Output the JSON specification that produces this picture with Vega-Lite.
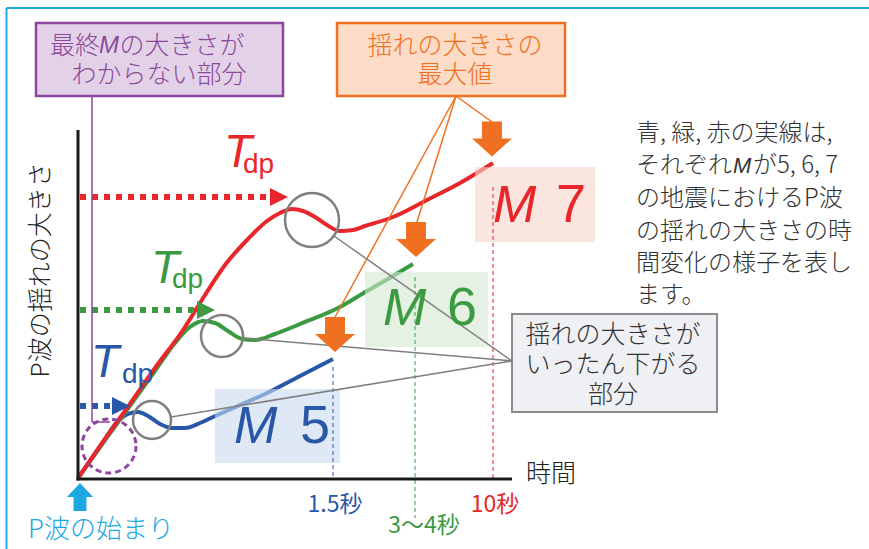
{
  "$schema": "https://vega.github.io/schema/vega-lite/v6.json",
  "width": 869,
  "height": 549,
  "padding": 0,
  "autosize": {"type": "none"},
  "background": "white",
  "config": {"view": {"stroke": null}},
  "encoding": {
    "x": {"field": "t", "type": "quantitative", "scale": {"domain": [-78, 791], "nice": false, "zero": false}, "axis": null},
    "y": {"field": "amp", "type": "quantitative", "scale": {"domain": [-71, 478], "nice": false, "zero": false}, "axis": null}
  },
  "layer": [
    {
      "data": {"values": [{"t": -71.5, "amp": 470, "t2": 791, "amp2": 470}, {"t": -71.5, "amp": 470, "t2": -71.5, "amp2": -71}]},
      "mark": {"type": "rule", "color": "#1ea8e1", "strokeWidth": 2},
      "encoding": {"x2": {"field": "t2"}, "y2": {"field": "amp2"}}
    },
    {
      "data": {"values": [{"t": -42, "t2": 205, "amp": 455, "amp2": 382}]},
      "mark": {"type": "rect", "fill": "#e3d2e7", "stroke": "#8d459f", "strokeWidth": 2.5},
      "encoding": {"x2": {"field": "t2"}, "y2": {"field": "amp2"}}
    },
    {
      "data": {"values": [{"t": 259, "t2": 487, "amp": 455, "amp2": 382}]},
      "mark": {"type": "rect", "fill": "#fcdcc7", "stroke": "#f07021", "strokeWidth": 2.5},
      "encoding": {"x2": {"field": "t2"}, "y2": {"field": "amp2"}}
    },
    {
      "data": {"values": [{"t": 434, "t2": 639, "amp": 164, "amp2": 66}]},
      "mark": {"type": "rect", "fill": "#eff0f3", "stroke": "#8c8c8c", "strokeWidth": 2},
      "encoding": {"x2": {"field": "t2"}, "y2": {"field": "amp2"}}
    },
    {
      "data": {"values": [
        {"series": "M5", "t": 0, "amp": 0}, {"series": "M5", "t": 22, "amp": 31}, {"series": "M5", "t": 40, "amp": 57},
        {"series": "M5", "t": 50, "amp": 64}, {"series": "M5", "t": 60, "amp": 66}, {"series": "M5", "t": 70, "amp": 62},
        {"series": "M5", "t": 82, "amp": 54}, {"series": "M5", "t": 94, "amp": 50}, {"series": "M5", "t": 107, "amp": 50},
        {"series": "M5", "t": 122, "amp": 55}, {"series": "M5", "t": 135, "amp": 61}, {"series": "M5", "t": 162, "amp": 73},
        {"series": "M5", "t": 189, "amp": 85}, {"series": "M5", "t": 222, "amp": 102}, {"series": "M5", "t": 255, "amp": 119}
      ]},
      "mark": {"type": "line", "interpolate": "monotone", "strokeWidth": 4},
      "encoding": {"color": {"field": "series", "type": "nominal", "scale": {"domain": ["M5", "M6", "M7"], "range": ["#2a58a8", "#3b9a42", "#e8262b"]}, "legend": null}}
    },
    {
      "data": {"values": [
        {"series": "M6", "t": 0, "amp": 0}, {"series": "M6", "t": 22, "amp": 31}, {"series": "M6", "t": 49, "amp": 68},
        {"series": "M6", "t": 77, "amp": 107}, {"series": "M6", "t": 97, "amp": 135}, {"series": "M6", "t": 112, "amp": 151},
        {"series": "M6", "t": 125, "amp": 157}, {"series": "M6", "t": 137, "amp": 155}, {"series": "M6", "t": 150, "amp": 147},
        {"series": "M6", "t": 164, "amp": 139}, {"series": "M6", "t": 177, "amp": 138}, {"series": "M6", "t": 197, "amp": 144},
        {"series": "M6", "t": 222, "amp": 154}, {"series": "M6", "t": 262, "amp": 171}, {"series": "M6", "t": 289, "amp": 187},
        {"series": "M6", "t": 315, "amp": 202}, {"series": "M6", "t": 335, "amp": 214}
      ]},
      "mark": {"type": "line", "interpolate": "monotone", "strokeWidth": 4},
      "encoding": {"color": {"field": "series", "type": "nominal", "scale": {"domain": ["M5", "M6", "M7"], "range": ["#2a58a8", "#3b9a42", "#e8262b"]}, "legend": null}}
    },
    {
      "data": {"values": [
        {"series": "M7", "t": 0, "amp": 0}, {"series": "M7", "t": 22, "amp": 32}, {"series": "M7", "t": 49, "amp": 70},
        {"series": "M7", "t": 77, "amp": 110}, {"series": "M7", "t": 105, "amp": 148}, {"series": "M7", "t": 127, "amp": 183},
        {"series": "M7", "t": 147, "amp": 213}, {"series": "M7", "t": 169, "amp": 238}, {"series": "M7", "t": 189, "amp": 257},
        {"series": "M7", "t": 202, "amp": 265}, {"series": "M7", "t": 214, "amp": 269}, {"series": "M7", "t": 225, "amp": 267},
        {"series": "M7", "t": 237, "amp": 261}, {"series": "M7", "t": 249, "amp": 253}, {"series": "M7", "t": 262, "amp": 247},
        {"series": "M7", "t": 275, "amp": 248}, {"series": "M7", "t": 287, "amp": 252}, {"series": "M7", "t": 315, "amp": 261},
        {"series": "M7", "t": 349, "amp": 278}, {"series": "M7", "t": 382, "amp": 295}, {"series": "M7", "t": 415, "amp": 315}
      ]},
      "mark": {"type": "line", "interpolate": "monotone", "strokeWidth": 4},
      "encoding": {"color": {"field": "series", "type": "nominal", "scale": {"domain": ["M5", "M6", "M7"], "range": ["#2a58a8", "#3b9a42", "#e8262b"]}, "legend": null}}
    },
    {
      "data": {"values": [
        {"series": "M5", "t": 137, "t2": 262, "amp": 89, "amp2": 15},
        {"series": "M6", "t": 287, "t2": 410, "amp": 206, "amp2": 131},
        {"series": "M7", "t": 397, "t2": 517, "amp": 311, "amp2": 236}
      ]},
      "mark": {"type": "rect", "fillOpacity": 0.6},
      "encoding": {
        "x2": {"field": "t2"}, "y2": {"field": "amp2"},
        "fill": {"field": "series", "type": "nominal", "scale": {"domain": ["M5", "M6", "M7"], "range": ["#c8daee", "#d4e8d0", "#f7d5c8"]}, "legend": null}
      }
    },
    {
      "data": {"values": [
        {"series": "M5", "t": 255, "amp": 111, "amp2": 0},
        {"series": "M6", "t": 337, "amp": 201, "amp2": -40},
        {"series": "M7", "t": 415, "amp": 291, "amp2": 0}
      ]},
      "mark": {"type": "rule", "strokeWidth": 1, "strokeDash": [4, 3]},
      "encoding": {"y2": {"field": "amp2"}, "color": {"field": "series", "type": "nominal", "scale": {"domain": ["M5", "M6", "M7"], "range": ["#2a58a8", "#3b9a42", "#e8262b"]}, "legend": null}}
    },
    {
      "data": {"values": [
        {"series": "M5", "t": 2, "t2": 36, "amp": 72},
        {"series": "M6", "t": 2, "t2": 121, "amp": 168},
        {"series": "M7", "t": 2, "t2": 194, "amp": 281}
      ]},
      "mark": {"type": "rule", "strokeWidth": 6, "strokeDash": [6, 6]},
      "encoding": {"x2": {"field": "t2"}, "color": {"field": "series", "type": "nominal", "scale": {"domain": ["M5", "M6", "M7"], "range": ["#2a58a8", "#3b9a42", "#e8262b"]}, "legend": null}}
    },
    {
      "data": {"values": [
        {"series": "M5", "t": 43, "amp": 72},
        {"series": "M6", "t": 128, "amp": 168},
        {"series": "M7", "t": 201, "amp": 281}
      ]},
      "mark": {"type": "point", "shape": "M-1,-1L1,0L-1,1Z", "filled": true, "size": 324, "opacity": 1},
      "encoding": {"color": {"field": "series", "type": "nominal", "scale": {"domain": ["M5", "M6", "M7"], "range": ["#2a58a8", "#3b9a42", "#e8262b"]}, "legend": null}}
    },
    {
      "data": {"values": [{"t": 234, "amp": 258}]},
      "mark": {"type": "point", "shape": "circle", "filled": false, "size": 2916, "color": "#7f7f7f", "strokeWidth": 2.5, "opacity": 1}
    },
    {
      "data": {"values": [{"t": 144, "amp": 142}]},
      "mark": {"type": "point", "shape": "circle", "filled": false, "size": 1764, "color": "#7f7f7f", "strokeWidth": 2.5, "opacity": 1}
    },
    {
      "data": {"values": [{"t": 74, "amp": 58}]},
      "mark": {"type": "point", "shape": "circle", "filled": false, "size": 1444, "color": "#7f7f7f", "strokeWidth": 2.5, "opacity": 1}
    },
    {
      "data": {"values": [{"t": 31, "amp": 32}]},
      "mark": {"type": "point", "shape": "circle", "filled": false, "size": 2916, "color": "#8d459f", "strokeWidth": 3, "strokeDash": [6, 4], "opacity": 1}
    },
    {
      "data": {"values": [{"t": 14, "amp": 382, "t2": 14, "amp2": 56}, {"t": 14, "amp": 56, "t2": 32, "amp2": 56}]},
      "mark": {"type": "rule", "color": "#8d459f", "strokeWidth": 1.5},
      "encoding": {"x2": {"field": "t2"}, "y2": {"field": "amp2"}}
    },
    {
      "data": {"values": [
        {"t": 378, "amp": 382, "t2": 414, "amp2": 356},
        {"t": 378, "amp": 382, "t2": 339, "amp2": 256},
        {"t": 378, "amp": 382, "t2": 257, "amp2": 161}
      ]},
      "mark": {"type": "rule", "color": "#f07021", "strokeWidth": 1.5},
      "encoding": {"x2": {"field": "t2"}, "y2": {"field": "amp2"}}
    },
    {
      "data": {"values": [
        {"t": 434, "amp": 117, "t2": 256, "amp2": 242},
        {"t": 434, "amp": 117, "t2": 165, "amp2": 140},
        {"t": 434, "amp": 117, "t2": 93, "amp2": 61}
      ]},
      "mark": {"type": "rule", "color": "#7f7f7f", "strokeWidth": 1.5},
      "encoding": {"x2": {"field": "t2"}, "y2": {"field": "amp2"}}
    },
    {
      "data": {"values": [{"t": 414, "amp": 339}, {"t": 338, "amp": 238.5}, {"t": 257, "amp": 143.5}]},
      "mark": {"type": "point", "shape": "M-0.5,-0.875L0.5,-0.875L0.5,-0.025L1,-0.025L0,0.875L-1,-0.025L-0.5,-0.025Z", "filled": true, "size": 1600, "color": "#f07021", "opacity": 1}
    },
    {
      "data": {"values": [{"t": 2, "amp": -19}]},
      "mark": {"type": "point", "shape": "M0,-1L0.93,0L0.46,0L0.46,1L-0.46,1L-0.46,0L-0.93,0Z", "filled": true, "size": 784, "color": "#1ea8e1", "opacity": 1}
    },
    {
      "data": {"values": [{"t": 0, "amp": -2.5, "t2": 0, "amp2": 348}, {"t": -1.5, "amp": -1, "t2": 434, "amp2": -1}]},
      "mark": {"type": "rule", "color": "#1a1a1a", "strokeWidth": 3},
      "encoding": {"x2": {"field": "t2"}, "y2": {"field": "amp2"}}
    },
    {
      "data": {"values": [
        {"series": "M7", "label": "T", "t": 146, "amp": 311},
        {"series": "M6", "label": "T", "t": 73, "amp": 195},
        {"series": "M5", "label": "T", "t": 13, "amp": 101}
      ]},
      "mark": {"type": "text", "font": "Liberation Sans", "fontStyle": "italic", "fontSize": 46, "align": "left", "baseline": "alphabetic"},
      "encoding": {"text": {"field": "label"}, "color": {"field": "series", "type": "nominal", "scale": {"domain": ["M5", "M6", "M7"], "range": ["#2a58a8", "#3b9a42", "#e8262b"]}, "legend": null}}
    },
    {
      "data": {"values": [
        {"series": "M7", "label": "dp", "t": 165, "amp": 305},
        {"series": "M6", "label": "dp", "t": 94, "amp": 190},
        {"series": "M5", "label": "dp", "t": 44, "amp": 95}
      ]},
      "mark": {"type": "text", "font": "Liberation Sans", "fontSize": 28, "align": "left", "baseline": "alphabetic"},
      "encoding": {"text": {"field": "label"}, "color": {"field": "series", "type": "nominal", "scale": {"domain": ["M5", "M6", "M7"], "range": ["#2a58a8", "#3b9a42", "#e8262b"]}, "legend": null}}
    },
    {
      "data": {"values": [
        {"series": "M7", "label": "M", "t": 415, "amp": 256},
        {"series": "M6", "label": "M", "t": 305, "amp": 153},
        {"series": "M5", "label": "M", "t": 156, "amp": 35}
      ]},
      "mark": {"type": "text", "font": "Liberation Sans", "fontStyle": "italic", "fontSize": 52, "align": "left", "baseline": "alphabetic"},
      "encoding": {"text": {"field": "label"}, "color": {"field": "series", "type": "nominal", "scale": {"domain": ["M5", "M6", "M7"], "range": ["#2a58a8", "#3b9a42", "#e8262b"]}, "legend": null}}
    },
    {
      "data": {"values": [
        {"series": "M7", "label": "7", "t": 493, "amp": 256},
        {"series": "M6", "label": "6", "t": 384, "amp": 153},
        {"series": "M5", "label": "5", "t": 237, "amp": 35}
      ]},
      "mark": {"type": "text", "font": "Liberation Sans", "fontSize": 54, "align": "center", "baseline": "alphabetic"},
      "encoding": {"text": {"field": "label"}, "color": {"field": "series", "type": "nominal", "scale": {"domain": ["M5", "M6", "M7"], "range": ["#2a58a8", "#3b9a42", "#e8262b"]}, "legend": null}}
    },
    {
      "data": {"values": [
        {"series": "M5", "label": "1.5秒", "t": 257, "amp": -26.5},
        {"series": "M6", "label": "3〜4秒", "t": 346, "amp": -48},
        {"series": "M7", "label": "10秒", "t": 417, "amp": -26.5}
      ]},
      "mark": {"type": "text", "font": "Noto Sans CJK JP", "fontSize": 23, "align": "center", "baseline": "middle"},
      "encoding": {"text": {"field": "label"}, "color": {"field": "series", "type": "nominal", "scale": {"domain": ["M5", "M6", "M7"], "range": ["#2a58a8", "#3b9a42", "#e8262b"]}, "legend": null}}
    },
    {
      "data": {"values": [
        {"label": "最終", "t": -3, "amp": 432.5},
        {"label": "の大きさが", "t": 104, "amp": 432.5},
        {"label": "わからない部分", "t": 81, "amp": 403.5}
      ]},
      "mark": {"type": "text", "font": "Noto Sans CJK JP", "fontWeight": 300, "fontSize": 25, "align": "center", "baseline": "middle", "color": "#8a4a9c"},
      "encoding": {"text": {"field": "label"}}
    },
    {
      "data": {"values": [{"label": "M", "t": 31, "amp": 432.5}]},
      "mark": {"type": "text", "font": "Liberation Sans", "fontStyle": "italic", "fontSize": 24, "align": "center", "baseline": "middle", "color": "#8a4a9c"},
      "encoding": {"text": {"field": "label"}}
    },
    {
      "data": {"values": [
        {"label": "揺れの大きさの", "t": 377, "amp": 432.5},
        {"label": "最大値", "t": 377, "amp": 403.5}
      ]},
      "mark": {"type": "text", "font": "Noto Sans CJK JP", "fontWeight": 300, "fontSize": 25, "align": "center", "baseline": "middle", "color": "#f07021"},
      "encoding": {"text": {"field": "label"}}
    },
    {
      "data": {"values": [
        {"label": "揺れの大きさが", "t": 535, "amp": 143},
        {"label": "いったん下がる", "t": 535, "amp": 113},
        {"label": "部分", "t": 535, "amp": 83}
      ]},
      "mark": {"type": "text", "font": "Noto Sans CJK JP", "fontWeight": 300, "fontSize": 25, "align": "center", "baseline": "middle", "color": "#333333"},
      "encoding": {"text": {"field": "label"}}
    },
    {
      "data": {"values": [
        {"label": "青, 緑, 赤の実線は,", "t": 558, "amp": 344},
        {"label": "それぞれ", "t": 558, "amp": 312},
        {"label": "が5, 6, 7", "t": 675, "amp": 312},
        {"label": "の地震におけるP波", "t": 558, "amp": 279},
        {"label": "の揺れの大きさの時", "t": 558, "amp": 246},
        {"label": "間変化の様子を表し", "t": 558, "amp": 214},
        {"label": "ます。", "t": 558, "amp": 182}
      ]},
      "mark": {"type": "text", "font": "Noto Sans CJK JP", "fontWeight": 300, "fontSize": 24, "align": "left", "baseline": "middle", "color": "#333333"},
      "encoding": {"text": {"field": "label"}}
    },
    {
      "data": {"values": [{"label": "M", "t": 655, "amp": 312}]},
      "mark": {"type": "text", "font": "Liberation Sans", "fontStyle": "italic", "fontSize": 22, "align": "left", "baseline": "middle", "color": "#333333"},
      "encoding": {"text": {"field": "label"}}
    },
    {
      "data": {"values": [{"label": "時間", "t": 448, "amp": 4}]},
      "mark": {"type": "text", "font": "Noto Sans CJK JP", "fontWeight": 300, "fontSize": 25, "align": "left", "baseline": "middle", "color": "#222222"},
      "encoding": {"text": {"field": "label"}}
    },
    {
      "data": {"values": [{"label": "P波の揺れの大きさ", "t": -37, "amp": 208}]},
      "mark": {"type": "text", "font": "Noto Sans CJK JP", "fontWeight": 300, "fontSize": 25, "align": "center", "baseline": "middle", "angle": 270, "color": "#222222"},
      "encoding": {"text": {"field": "label"}}
    },
    {
      "data": {"values": [{"label": "P波の始まり", "t": 23, "amp": -51.5}]},
      "mark": {"type": "text", "font": "Noto Sans CJK JP", "fontWeight": 300, "fontSize": 26, "align": "center", "baseline": "middle", "color": "#1ea8e1"},
      "encoding": {"text": {"field": "label"}}
    }
  ]
}
